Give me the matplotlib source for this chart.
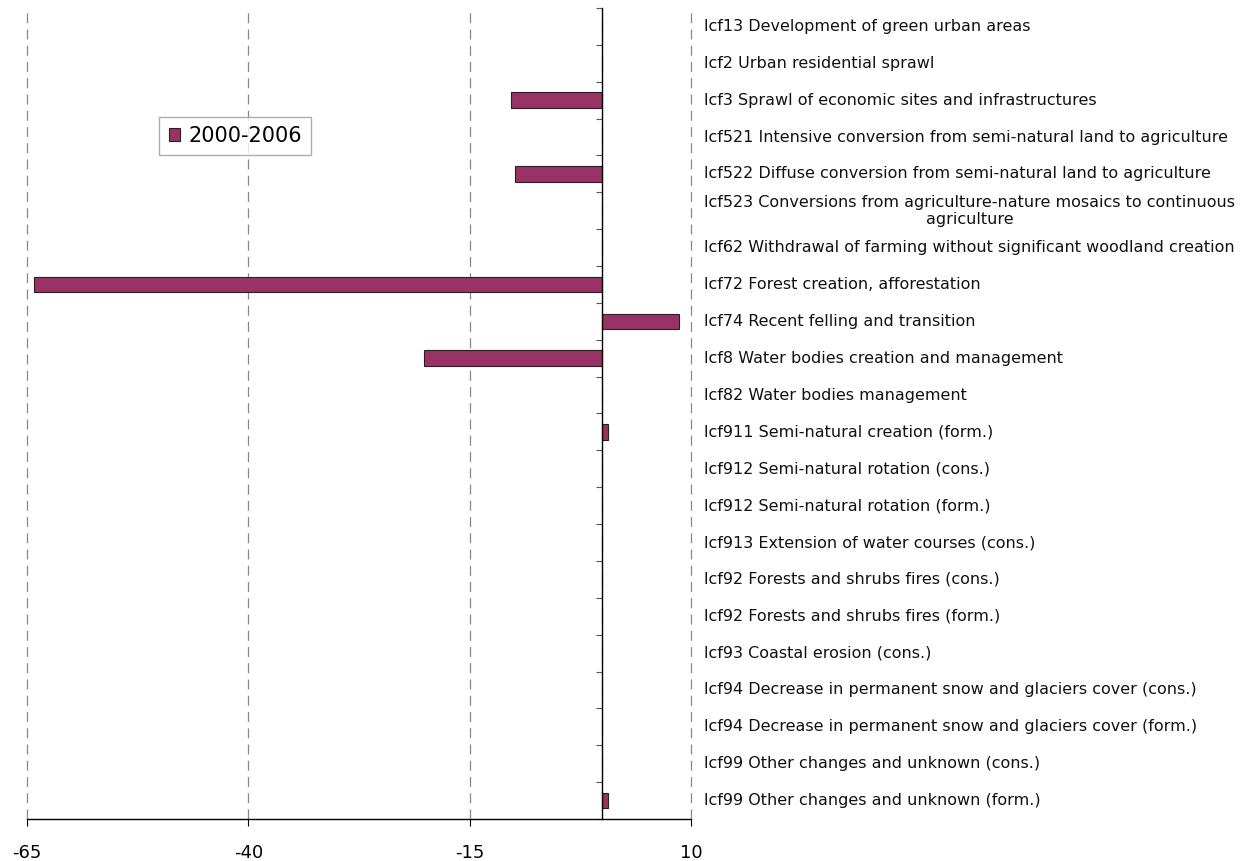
import matplotlib
matplotlib.use('Agg')
import matplotlib.pyplot as plt
import matplotlib.transforms as mtransforms
import numpy as np

# land cover flow categories (top -> bottom) and values for 2000-2006
labels = [
    "lcf13 Development of green urban areas",
    "lcf2 Urban residential sprawl",
    "lcf3 Sprawl of economic sites and infrastructures",
    "lcf521 Intensive conversion from semi-natural land to agriculture",
    "lcf522 Diffuse conversion from semi-natural land to agriculture",
    "lcf523 Conversions from agriculture-nature mosaics to continuous\nagriculture",
    "lcf62 Withdrawal of farming without significant woodland creation",
    "lcf72 Forest creation, afforestation",
    "lcf74 Recent felling and transition",
    "lcf8 Water bodies creation and management",
    "lcf82 Water bodies management",
    "lcf911 Semi-natural creation (form.)",
    "lcf912 Semi-natural rotation (cons.)",
    "lcf912 Semi-natural rotation (form.)",
    "lcf913 Extension of water courses (cons.)",
    "lcf92 Forests and shrubs fires (cons.)",
    "lcf92 Forests and shrubs fires (form.)",
    "lcf93 Coastal erosion (cons.)",
    "lcf94 Decrease in permanent snow and glaciers cover (cons.)",
    "lcf94 Decrease in permanent snow and glaciers cover (form.)",
    "lcf99 Other changes and unknown (cons.)",
    "lcf99 Other changes and unknown (form.)",
]
values = [0, 0, -10.35, 0, -9.85, 0, 0, -64.2, 8.65, -20.2, 0,
          0.68, 0, 0, 0, 0, 0, 0, 0, 0, 0, 0.68]
series_name = "2000-2006"
xticks = [-65, -40, -15, 10]

fig = plt.figure(figsize=(12.47, 8.61), dpi=100)
ax = fig.add_axes([27/1247, 42/861, 664/1247, 811/861])

y = np.arange(len(labels))
ax.barh(y, values, height=0.42, color='#993366', edgecolor='#222222',
        lw=0.8, label=series_name, zorder=3)

ax.set_xlim(-65, 10)
ax.set_ylim(len(labels) - 0.5, -0.5)

# dashed vertical gridlines
for xv in xticks:
    ax.axvline(xv, color='#888888', ls=(0, (8, 5)), lw=0.9, zorder=1,
               clip_on=False)

# spines: bottom solid, left moved to zero
for s in ['top', 'right']:
    ax.spines[s].set_visible(False)
ax.spines['left'].set_position(('data', 0))
ax.spines['left'].set_linewidth(1.0)
ax.spines['left'].set_zorder(4)
ax.spines['bottom'].set_linewidth(1.0)

ax.set_yticks(np.arange(len(labels) + 1) - 0.5)
ax.set_yticklabels([])
ax.tick_params(axis='y', direction='out', length=4, width=0.8, color='#555555')

ax.set_xticks(xticks)
ax.set_xticklabels([str(v) for v in xticks], fontsize=13)
ax.tick_params(axis='x', direction='out', length=5, width=0.8, pad=13)

# category labels at right of plot
trans = mtransforms.blended_transform_factory(ax.transAxes, ax.transData)
for i, lab in enumerate(labels):
    ax.text(1.0195, i, lab, transform=trans, ha='left', va='center',
            multialignment='center', fontsize=11.5, color='#111111',
            linespacing=1.2)

leg = ax.legend(loc='upper left', bbox_to_anchor=(0.199, 0.866),
                fontsize=15, frameon=True, fancybox=False,
                handlelength=0.55, handleheight=0.55, handletextpad=0.4,
                borderpad=0.45, borderaxespad=0)
leg.get_frame().set_edgecolor('#999999')
leg.get_frame().set_linewidth(1.0)

fig.savefig('out.png', dpi=100)
